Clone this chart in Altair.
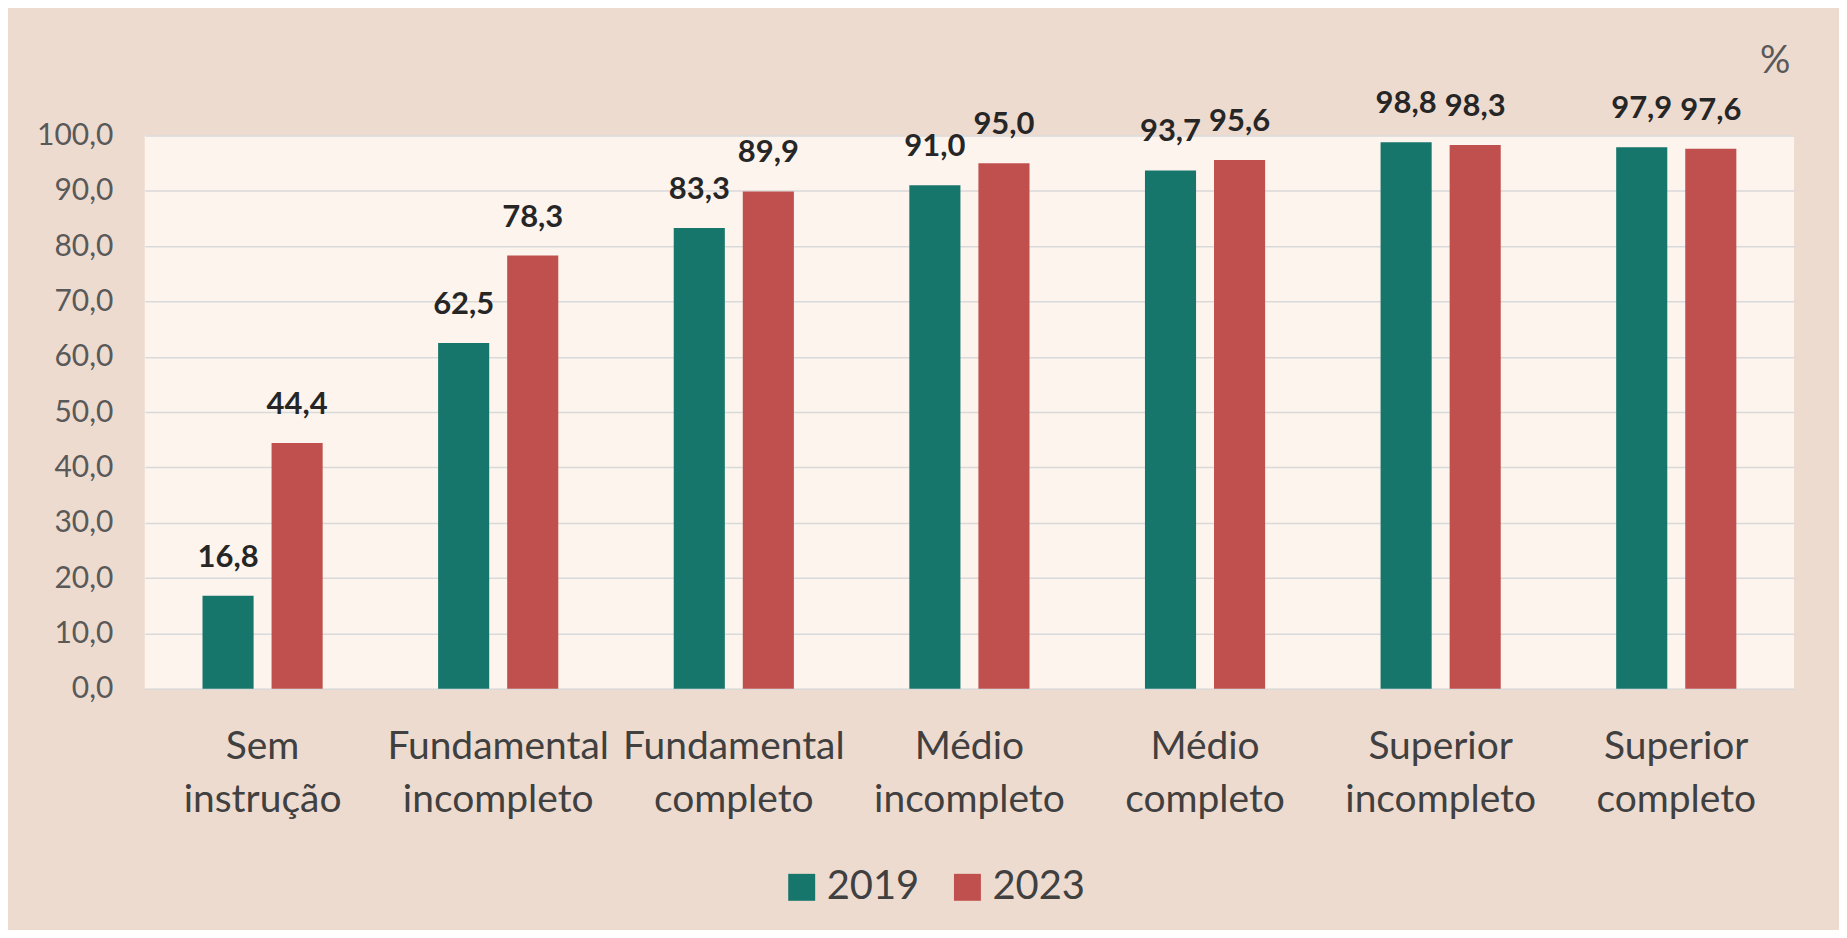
import altair as alt
import pandas as pd

categories = [
    "Sem instrução",
    "Fundamental incompleto",
    "Fundamental completo",
    "Médio incompleto",
    "Médio completo",
    "Superior incompleto",
    "Superior completo",
]
values_2019 = [16.8, 62.5, 83.3, 91.0, 93.7, 98.8, 97.9]
values_2023 = [44.4, 78.3, 89.9, 95.0, 95.6, 98.3, 97.6]
years = ["2019", "2023"]
y_ticks = [0, 10, 20, 30, 40, 50, 60, 70, 80, 90, 100]
unit_label = ["%"]

rows = []
for c, a, b in zip(categories, values_2019, values_2023):
    rows.append({"cat": c, "ano": years[0], "valor": a})
    rows.append({"cat": c, "ano": years[1], "valor": b})
df = pd.DataFrame(rows)

FONT = "Lato"
TEAL = "#17766B"
RED = "#C0504D"

x_enc = alt.X(
    "cat:N",
    sort=categories,
    title=None,
    scale=alt.Scale(paddingInner=0.49, paddingOuter=0.245),
    axis=alt.Axis(
        labelExpr="split(datum.label, ' ')",
        labelFont=FONT,
        labelFontSize=39,
        labelColor="#404040",
        labelLineHeight=53,
        labelPadding=39,
        labelAngle=0,
        labelOverlap=False,
        labelLimit=400,
        ticks=False,
        domain=False,
        grid=False,
    ),
)
xoff = alt.XOffset("ano:N", sort=years, scale=alt.Scale(paddingInner=0.26, paddingOuter=0))
y_enc = alt.Y(
    "valor:Q",
    title=None,
    scale=alt.Scale(domain=[0, 100], nice=False),
    axis=alt.Axis(
        values=y_ticks,
        labelExpr="replace(format(datum.value, '.1f'), '.', ',')",
        labelFont=FONT,
        labelFontSize=30,
        labelColor="#595959",
        labelPadding=32,
        ticks=False,
        domain=False,
        grid=True,
        gridColor="#D9D9D9",
        gridWidth=1.5,
    ),
)

base = alt.Chart(df)

bars = base.mark_bar().encode(
    x=x_enc,
    xOffset=xoff,
    y=y_enc,
    color=alt.Color(
        "ano:N",
        sort=years,
        scale=alt.Scale(domain=years, range=[TEAL, RED]),
        legend=alt.Legend(
            title=None,
            orient="none",
            direction="horizontal",
            legendX=638,
            legendY=733,
            symbolType="square",
            symbolSize=729,
            symbolStrokeWidth=0,
            labelFont=FONT,
            labelFontSize=40,
            labelColor="#404040",
            labelOffset=5,
            columnPadding=28,
        ),
    ),
)

labels = base.transform_calculate(
    lbl="replace(format(datum.valor, '.1f'), '.', ',')"
).mark_text(
    font=FONT, fontSize=31, fontWeight="bold", color="#262626",
    baseline="alphabetic", dy=-29,
).encode(
    x=alt.X("cat:N", sort=categories),
    xOffset=alt.XOffset("ano:N", sort=years),
    y=alt.Y("valor:Q"),
    text="lbl:N",
)

unit = alt.Chart(pd.DataFrame({"u": unit_label})).mark_text(
    font=FONT, fontSize=38, color="#595959", align="center", baseline="alphabetic"
).encode(
    x=alt.value(1633),
    y=alt.value(-63),
    text="u:N",
)

chart = (
    alt.layer(bars, labels, unit)
    .properties(
        width=1652,
        height=554,
        background="#EEDBD0",
        padding={"left": 137, "top": 127, "right": 45, "bottom": 241},
        autosize=alt.AutoSizeParams(type="none"),
    )
    .configure_view(fill="#FDF4EE", stroke=None)
)

chart.save("out.html", embed_options={"renderer": "svg", "actions": False})
